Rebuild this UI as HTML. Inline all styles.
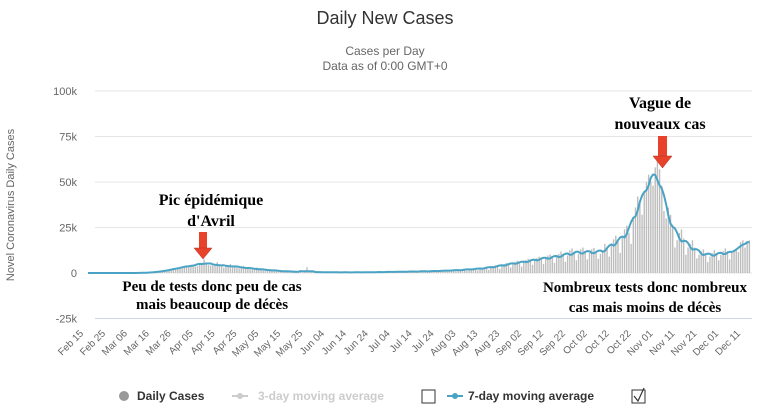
<!DOCTYPE html>
<html><head><meta charset="utf-8"><style>
body{margin:0;background:#fff;width:766px;height:412px;overflow:hidden;font-family:"Liberation Sans",sans-serif}
</style></head><body>
<svg id="chart" width="766" height="412" xmlns="http://www.w3.org/2000/svg">
<text x="385" y="24" text-anchor="middle" font-size="18" fill="#333">Daily New Cases</text>
<text x="385" y="55" text-anchor="middle" font-size="12" fill="#666">Cases per Day</text>
<text x="385" y="70" text-anchor="middle" font-size="12" fill="#666">Data as of 0:00 GMT+0</text>
<text transform="translate(14,205) rotate(-90)" text-anchor="middle" font-size="11" fill="#666">Novel Coronavirus Daily Cases</text>
<g id="grid"></g><g id="bars"></g><g id="line"></g><g id="xlabels"></g>
<g font-family="Liberation Serif,serif" font-weight="bold" fill="#000" text-anchor="middle" font-size="16">
<text x="211" y="205">Pic épidémique</text>
<text x="211" y="226">d'Avril</text>
<text x="660" y="108">Vague de</text>
<text x="660" y="129">nouveaux cas</text>
<text x="212" y="291" font-size="15">Peu de tests donc peu de cas</text>
<text x="212" y="309" font-size="15">mais  beaucoup de décès</text>
<text x="645" y="292" font-size="15">Nombreux tests donc nombreux</text>
<text x="645" y="312" font-size="15">cas mais  moins de décès</text>
</g>
<g><rect x="199" y="232" width="8" height="16" fill="#e8432a"/><polygon points="194,248 212,248 203,259" fill="#e8432a" stroke="#b03020" stroke-width="0.5"/></g>
<g><rect x="658" y="136" width="9" height="20" fill="#e8432a"/><polygon points="653,156 672,156 662.5,168" fill="#e8432a" stroke="#b03020" stroke-width="0.5"/></g>
<g font-size="12">
<g><circle cx="124" cy="396" r="5" fill="#999"/><text x="137" y="400" font-weight="bold" fill="#333">Daily Cases</text></g>
<g><line x1="232" y1="396" x2="248" y2="396" stroke="#ccc" stroke-width="2"/><circle cx="240" cy="396" r="3" fill="#ccc"/><text x="258" y="400" font-weight="bold" fill="#ccc">3-day moving average</text></g>
<rect x="422" y="390" width="13" height="13" fill="#fff" stroke="#333"/>
<g><line x1="447" y1="396" x2="463" y2="396" stroke="#4aa3c4" stroke-width="2"/><circle cx="455" cy="396" r="3" fill="#4aa3c4"/><text x="468" y="400" font-weight="bold" fill="#333">7-day moving average</text></g>
<g><rect x="632" y="390" width="13" height="13" fill="#fff" stroke="#333"/><polyline points="634,396 638,401 644,388" fill="none" stroke="#333" stroke-width="1.2"/></g>
</g>
</svg>
<script>
const yTicks=[-25,0,25,50,75,100];
const yTickLabels=["-25k","0","25k","50k","75k","100k"];
const xTickLabels=["Feb 15","Feb 25","Mar 06","Mar 16","Mar 26","Apr 05","Apr 15","Apr 25","May 05","May 15","May 25","Jun 04","Jun 14","Jun 24","Jul 04","Jul 14","Jul 24","Aug 03","Aug 13","Aug 23","Sep 02","Sep 12","Sep 22","Oct 02","Oct 12","Oct 22","Nov 01","Nov 11","Nov 21","Dec 01","Dec 11"];
const dailyCases=[0,0,0,0,0,0,0,
0,0,0,0,0,0,0,0,0,0,0,0,0,0,0,0,0,0,0.1,0.1,
0.2,0.3,0.2,0.4,0.5,0.6,0.8,0.9,1.1,1.4,1.6,1.8,1.9,2.4,2.9,3.0,2.6,3.4,3.8,3.9,
4.2,4.6,3.5,3.8,4.8,5.5,7.5,5.2,4.3,4.1,5.0,4.8,5.9,4.3,3.6,2.9,3.5,4.3,5.0,4.0,
3.3,2.8,2.6,3.5,3.9,3.3,2.4,2.0,1.8,2.5,3.0,2.6,1.9,1.5,1.3,1.6,2.1,1.7,1.4,1.0,
0.9,1.2,1.3,1.1,0.8,0.6,0.5,0.9,1.0,0.8,0.6,0.4,0.5,3.2,0.5,0.6,0.7,0.5,0.4,0.3,
0.5,0.6,0.4,0.3,0.5,0.4,0.3,0.4,0.5,0.4,0.3,0.2,0.4,0.5,0.4,0.3,0.2,0.4,0.4,0.5,
0.4,0.3,0.5,0.6,0.5,0.4,0.3,0.6,0.7,0.6,0.5,0.4,0.7,0.8,0.7,0.6,0.5,0.8,0.9,0.8,
0.7,0.5,0.9,1.0,1.0,0.8,0.6,1.0,1.2,1.1,0.9,0.7,1.2,1.4,1.3,1.1,0.8,1.5,1.6,1.7,
1.4,1.0,1.7,1.9,2.0,1.6,1.2,2.2,2.5,2.4,2.0,1.4,2.6,3.0,3.2,2.7,1.8,3.5,3.8,4.2,
3.6,2.2,4.5,5.0,5.5,4.6,3.0,5.5,6.2,6.8,5.6,3.5,6.5,7.2,7.8,6.5,4.5,7.5,8.2,9.0,
7.8,5.0,8.6,9.6,10.2,8.2,5.6,9.0,10.5,11.8,10.0,6.2,9.6,12.5,13.5,11.5,7.0,10.5,13.0,14.0,
12.0,7.5,11.0,13.0,13.8,12.0,7.8,10.5,12.5,16.0,14.0,9.0,15.0,18.5,20.5,17.0,11.0,20.0,24.0,26.0,
22.0,16.0,30.0,36.0,42.0,40.0,32.0,44.0,50.0,54.0,50.0,48.0,58.0,62.0,57.0,48.0,34.0,30.0,36.0,32.0,
26.0,14.0,18.0,22.0,24.0,19.0,10.0,14.0,16.0,18.0,14.0,8.0,10.0,12.0,13.0,11.0,6.0,9.0,11.0,12.5,
11.0,7.0,10.0,12.0,13.5,12.0,7.5,11.0,12.5,13.0,11.5,17.0,18.0,14.0,17.5,18.0];
const NS="http://www.w3.org/2000/svg";
const x0=88,pxDay=2.19,plotL=95,plotR=752;
function xs(d){return x0+pxDay*d;}
function ys(v){return 273-v*1.82;}
function mk(tag,attrs,parent){const e=document.createElementNS(NS,tag);for(const k in attrs)e.setAttribute(k,attrs[k]);parent.appendChild(e);return e;}
const grid=document.getElementById('grid');
yTicks.forEach((t,i)=>{
  const l=mk('line',{x1:plotL,x2:plotR,y1:ys(t),y2:ys(t),stroke:i===0?'#ccd6eb':'#e6e6e6','stroke-width':1},grid);
  
  
  const tx=mk('text',{x:77,y:ys(t)+4,'text-anchor':'end','font-size':11,fill:'#666'},grid);
  tx.textContent=yTickLabels[i];
  
  
});
const bars=document.getElementById('bars');
dailyCases.forEach((v,d)=>{
  if(v<=0)return;
  const h=v*1.82;
  const r=mk('rect',{x:xs(d)-0.7,y:ys(v),width:1.4,height:h,fill:'#bdbdbd'},bars);
  
  
});
const avg=dailyCases.map((v,i)=>{let s=0,n=0;for(let j=Math.max(0,i-3);j<=Math.min(dailyCases.length-1,i+3);j++){s+=dailyCases[j];n++;}return s/n;});
const pts=avg.map((v,d)=>xs(d).toFixed(1)+','+ys(v).toFixed(1)).join(' ');
const pl=mk('polyline',{points:pts,fill:'none',stroke:'#4aa3c4','stroke-width':2,'stroke-linejoin':'round'},document.getElementById('line'));


const xl=document.getElementById('xlabels');
xTickLabels.forEach((lab,i)=>{
  const x=xs(i*10)-4;
  const t=mk('text',{x:x,y:334,'text-anchor':'end','font-size':10,fill:'#666',transform:`rotate(-45 ${x} 334)`},xl);
  t.textContent=lab;
  
  
});
</script>
</body></html>
